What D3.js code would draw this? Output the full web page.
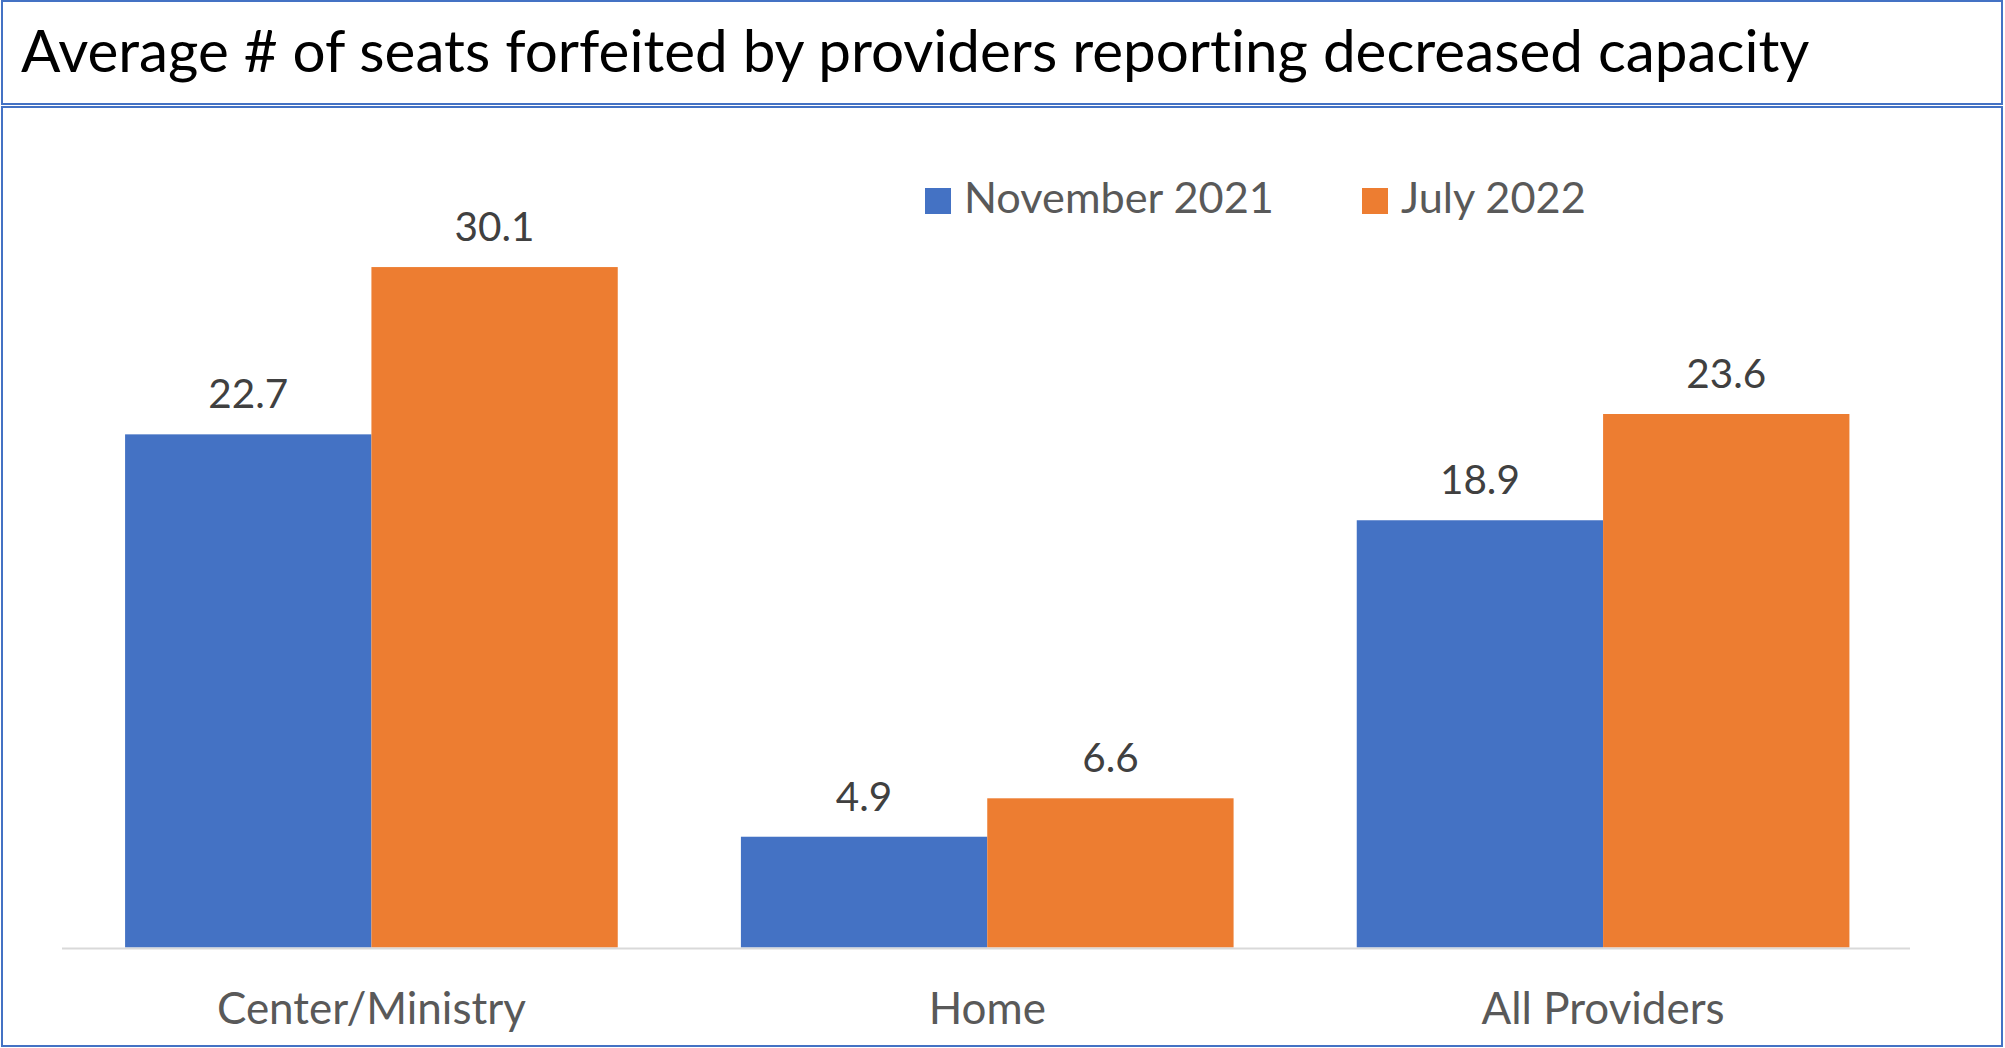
<!DOCTYPE html>
<html>
<head>
<meta charset="utf-8">
<script src="https://cdn.jsdelivr.net/npm/d3@7"></script>
<style>
  body { margin: 0; background: #fff; }
  text { font-family: Lato, "Open Sans", sans-serif; font-variant-ligatures: none; }
</style>
</head>
<body>
<svg class="chart"></svg>
<script>
  var categories = ['Center/Ministry', 'Home', 'All Providers'];
  var seriesNames = ['November 2021', 'July 2022'];
  var nov2021 = [22.7, 4.9, 18.9];
  var jul2022 = [30.1, 6.6, 23.6];
  var title = 'Average # of seats forfeited by providers reporting decreased capacity';

  var WIDTH = 2005, HEIGHT = 1048;
  var colors = ['#4472C4', '#ED7D31'];

  var svg = d3.select('.chart').attr('width', WIDTH).attr('height', HEIGHT);

  // scales text so it spans the width it has in the original
  var fit = function(sel, target){
    var w = sel.node().getComputedTextLength();
    var fs = parseFloat(sel.attr('font-size'));
    sel.attr('font-size', fs * target / w);
    return fs * target / w;
  };

  // boxes
  svg.append('rect')
    .attr('x', 2).attr('y', 1).attr('width', 2000).attr('height', 103)
    .attr('fill', 'none').attr('stroke', '#4472C4').attr('stroke-width', 2);
  svg.append('rect')
    .attr('x', 2).attr('y', 107).attr('width', 2000).attr('height', 939)
    .attr('fill', 'none').attr('stroke', '#4472C4').attr('stroke-width', 2);

  var t = svg.append('text')
    .attr('x', 21).attr('y', 72)
    .attr('font-size', 60)
    .attr('fill', '#000')
    .text(title);
  fit(t, 1789);

  var x0 = d3.scaleBand().domain(categories).range([63.5, 1911])
    .paddingInner(0.2).paddingOuter(0.1);
  var x1 = d3.scaleBand().domain(seriesNames).range([0, x0.bandwidth()]);
  var y = d3.scaleLinear().domain([0, 35]).range([947.5, 156.3]);

  var rows = categories.map(function(c, i){
    return { cat: c, values: [nov2021[i], jul2022[i]] };
  });

  var groups = svg.selectAll('g.cat')
    .data(rows)
    .enter()
    .append('g')
    .attr('class', 'cat')
    .attr('transform', function(d){ return 'translate(' + x0(d.cat) + ',0)'; });

  var bars = groups.selectAll('rect')
    .data(function(d){
      return d.values.map(function(v, j){ return { s: seriesNames[j], v: v, j: j }; });
    })
    .enter();

  bars.append('rect')
    .attr('x', function(d){ return x1(d.s); })
    .attr('y', function(d){ return y(d.v); })
    .attr('width', x1.bandwidth())
    .attr('height', function(d){ return y(0) - y(d.v); })
    .attr('fill', function(d){ return colors[d.j]; });

  // data label size taken from one label
  var probe = svg.append('text').attr('font-size', 40).text('22.7');
  var labelSize = fit(probe, 80);
  probe.remove();

  bars.append('text')
    .attr('x', function(d){ return x1(d.s) + x1.bandwidth() / 2; })
    .attr('y', function(d){ return y(d.v) - 26; })
    .attr('text-anchor', 'middle')
    .attr('font-size', labelSize)
    .attr('fill', '#404040')
    .text(function(d){ return d3.format('.1f')(d.v); });

  // baseline
  svg.append('line')
    .attr('x1', 62).attr('x2', 1910)
    .attr('y1', y(0) + 1).attr('y2', y(0) + 1)
    .attr('stroke', '#d9d9d9').attr('stroke-width', 2);

  // category axis
  var xAxis = svg.append('g')
    .attr('transform', 'translate(0,' + y(0) + ')')
    .call(d3.axisBottom(x0).tickSize(0).tickPadding(0));
  xAxis.select('.domain').remove();
  probe = svg.append('text').attr('font-size', 40).text(categories[0]);
  var catSize = fit(probe, 309);
  probe.remove();
  xAxis.selectAll('text')
    .attr('dy', null)
    .attr('y', 1024 - y(0))
    .attr('font-family', 'Lato, "Open Sans", sans-serif')
    .attr('font-size', catSize)
    .attr('fill', '#595959');

  // legend
  probe = svg.append('text').attr('font-size', 40).text(seriesNames[0]);
  var legSize = fit(probe, 310);
  probe.remove();
  var legX = [925, 1362];
  var legend = svg.selectAll('g.legend')
    .data(seriesNames)
    .enter()
    .append('g')
    .attr('class', 'legend')
    .attr('transform', function(d, i){ return 'translate(' + legX[i] + ',188)'; });
  legend.append('rect')
    .attr('width', 26).attr('height', 26)
    .attr('fill', function(d, i){ return colors[i]; });
  legend.append('text')
    .attr('x', 39).attr('y', 25)
    .attr('font-size', legSize)
    .attr('fill', '#595959')
    .text(function(d){ return d; });
</script>
</body>
</html>
